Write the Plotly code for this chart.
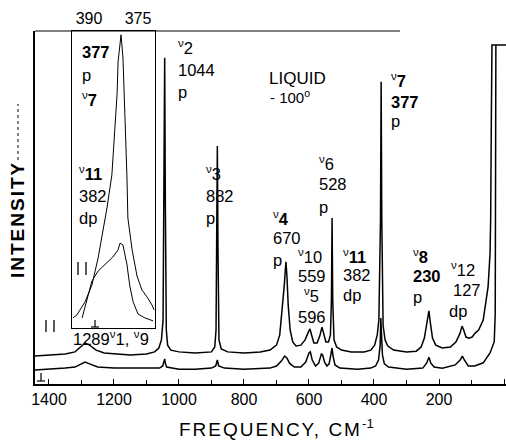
import plotly.graph_objects as go

# ---------------- data ----------------
# upper (parallel) trace: frequency cm-1, intensity (arb. units, 0-100 frame)
par_freq = [1443, 1400, 1350, 1320, 1300, 1289, 1275, 1255, 1230, 1200, 1150, 1100, 1075,
            1062, 1054, 1049, 1046, 1044, 1042, 1039, 1035, 1025, 1000, 950, 900, 890, 886,
            884, 882, 880, 877, 870, 850, 800, 750, 720, 700, 690, 682, 676, 671, 668, 664,
            658, 650, 640, 625, 612, 602, 597, 592, 585, 575, 566, 560, 555, 548, 540, 534,
            531, 529, 527, 523, 515, 500, 470, 430, 410, 398, 390, 385, 380, 378, 376, 372,
            366, 358, 340, 300, 270, 255, 245, 236, 231, 227, 220, 210, 190, 165, 148, 136,
            129, 124, 117, 108, 98, 88, 78, 64, 49, 43, 41, 39, 37, -8]
par_int = [7.9, 8.2, 8.5, 9.1, 10.8, 11.6, 11.0, 9.6, 8.8, 8.5, 8.2, 8.5, 9.1,
           10.2, 12.5, 18.1, 52.0, 92.4, 52.0, 15.3, 11.0, 9.6, 9.1, 8.8, 9.1, 10.5, 15.3,
           38.0, 67.4, 38.0, 12.5, 9.9, 9.1, 8.8, 9.1, 9.6, 11.0, 13.9, 21.0, 28.0, 34.6, 30.9, 22.4,
           15.3, 11.9, 10.8, 11.0, 12.5, 14.7, 15.6, 13.9, 11.6, 11.6, 13.9, 16.1, 14.4, 11.9, 11.9, 13.9,
           23.8, 47.0, 23.8, 12.5, 10.5, 9.6, 9.1, 9.1, 9.6, 11.0, 13.9, 18.1, 46.5, 85.6, 46.5, 16.7,
           12.5, 10.8, 9.6, 9.1, 9.3, 10.5, 13.0, 17.6, 20.7, 17.6, 13.0, 11.0, 10.2, 10.5, 11.9, 14.2,
           16.4, 15.3, 13.3, 13.0, 13.3, 14.5, 15.3, 18.1, 27.5, 37.0, 47.0, 75.0, 96.0, 96.0]

# lower (perpendicular) trace
perp_freq = [1443, 1400, 1350, 1320, 1300, 1289, 1275, 1250, 1200, 1100, 1060, 1050, 1046,
             1044, 1042, 1038, 1000, 950, 900, 887, 882, 878, 860, 800, 720, 700, 685, 675,
             668, 660, 645, 625, 610, 600, 596, 590, 580, 570, 562, 558, 552, 545, 538, 532,
             529, 526, 520, 505, 450, 410, 395, 386, 381, 379, 377, 374, 368, 355, 300, 250,
             238, 231, 225, 215, 190, 150, 135, 128, 122, 110, 90, 64, 43, 30, 27, 25]
perp_int = [4.0, 4.2, 4.5, 4.8, 5.7, 6.2, 5.7, 4.8, 4.5, 4.5, 4.5, 5.1, 6.2,
            7.1, 5.9, 4.8, 4.2, 4.2, 4.5, 5.1, 6.8, 5.1, 4.5, 4.2, 4.5, 5.1, 6.5, 7.9,
            7.4, 5.9, 4.8, 4.8, 6.2, 8.8, 9.1, 6.8, 5.1, 5.9, 8.5, 8.2, 6.2, 5.1, 5.7, 8.2,
            10.2, 7.9, 5.4, 4.5, 4.2, 4.5, 5.1, 6.8, 11.0, 18.7, 15.3, 8.2, 5.7, 4.8, 4.2, 4.5,
            5.9, 7.6, 5.9, 4.8, 4.5, 5.4, 6.8, 7.9, 6.8, 5.1, 5.1, 6.0, 8.8, 12.0, 20.0, 96.0]

# inset (expanded 377/382 region)
ins_par_freq = [394.9, 393.7, 391.2, 389.1, 387.2, 385.7, 384.5, 383.0, 382.3, 381.4, 381.1,
                380.2, 379.6, 379.0, 378.4, 378.1, 376.8, 375.3, 373.8, 372.2, 370.7, 370.1]
ins_par_int = [3.4, 4.4, 8.8, 14.5, 23.6, 32.3, 40.4, 51.5, 62.3, 78.8, 89.6,
               98.7, 90.9, 73.4, 51.5, 37.0, 26.3, 17.5, 12.8, 10.4, 7.7, 6.1]
ins_perp_freq = [392.1, 390.6, 389.1, 387.2, 385.1, 382.7, 381.1, 380.5, 379.6, 378.4,
                 377.5, 376.5, 375.0, 372.9, 370.4]
ins_perp_int = [3.4, 9.4, 15.8, 19.2, 21.5, 23.9, 26.3, 28.6, 27.9, 21.5,
                14.1, 8.8, 4.7, 3.4, 2.4]

main_ticks = [1400, 1200, 1000, 800, 600, 400, 200, 0]
inset_ticks = [390, 375]

# ---------------- geometry helpers (pixel -> paper) ----------------
L, R, T, B = 35, 0, 31, 56
W, H = 506, 440
PW, PH = W - L - R, H - T - B


def px(x):
    return (x - L) / PW


def py(y):
    return (H - B - y) / PH


FONT = "Liberation Sans, Arial, Helvetica, sans-serif"

fig = go.Figure()
fig.add_trace(go.Scatter(x=par_freq, y=par_int, mode="lines",
                         line=dict(color="black", width=1.5), hoverinfo="skip"))
fig.add_trace(go.Scatter(x=perp_freq, y=perp_int, mode="lines",
                         line=dict(color="black", width=1.5), hoverinfo="skip"))
fig.add_trace(go.Scatter(x=ins_par_freq, y=ins_par_int, mode="lines", xaxis="x2", yaxis="y2",
                         line=dict(color="black", width=1), hoverinfo="skip"))
fig.add_trace(go.Scatter(x=ins_perp_freq, y=ins_perp_int, mode="lines", xaxis="x2", yaxis="y2",
                         line=dict(color="black", width=1), hoverinfo="skip"))

# ---------------- text labels ----------------
labels = [
    # inset
    ("<b>377</b>", 80, 52), ("p", 80, 75), ("<sup>ν</sup><b>7</b>", 80, 99),
    ("<sup>ν</sup><b>11</b>", 77, 173), ("382", 77, 196), ("dp", 77, 218),
    # main
    ("1289<sup>ν</sup>1, <sup>ν</sup>9", 71, 338),
    ("<sup>ν</sup>2", 176, 47), ("1044", 176, 70), ("p", 176, 92),
    ("<sup>ν</sup><b>7</b>", 389, 80), ("<b>377</b>", 389, 102), ("p", 389, 121),
    ("<sup>ν</sup>3", 204, 173), ("882", 204, 196), ("p", 204, 218),
    ("<sup>ν</sup>6", 317, 163), ("528", 317, 184), ("p", 317, 207),
    ("<sup>ν</sup><b>4</b>", 271, 218), ("670", 271, 238), ("p", 271, 260),
    ("<sup>ν</sup>10", 296, 256), ("559", 296, 276),
    ("<sup>ν</sup>5", 302, 295), ("596", 296, 317),
    ("<sup>ν</sup><b>11</b>", 341, 256), ("382", 341, 275), ("dp", 341, 295),
    ("<sup>ν</sup><b>8</b>", 411, 256), ("<b>230</b>", 411, 276), ("p", 411, 297),
    ("<sup>ν</sup>12", 449, 269), ("127", 451, 290), ("dp", 447, 311),
]
ann = []
for txt, x, y in labels:
    ann.append(dict(text=txt, x=px(x), y=py(y), xref="paper", yref="paper",
                    xanchor="left", yanchor="middle", showarrow=False,
                    font=dict(family=FONT, size=16.5, color="black")))

ann.append(dict(text="LIQUID", x=px(267), y=py(78), xref="paper", yref="paper",
                xanchor="left", yanchor="middle", showarrow=False,
                font=dict(family=FONT, size=17, color="black")))
ann.append(dict(text="- 100<sup>o</sup>", x=px(268), y=py(96), xref="paper", yref="paper",
                xanchor="left", yanchor="middle", showarrow=False,
                font=dict(family=FONT, size=15, color="black")))

# axis titles
ann.append(dict(text='<span style="letter-spacing:2px">FREQUENCY, CM</span><sup>-1</sup>',
                x=px(276), y=py(428), xref="paper", yref="paper",
                xanchor="center", yanchor="middle", showarrow=False,
                font=dict(family=FONT, size=19, color="black")))
ann.append(dict(text='<span style="letter-spacing:2px"><b>INTENSITY</b></span>',
                x=px(17), y=py(220), xref="paper", yref="paper", textangle=-90,
                xanchor="center", yanchor="middle", showarrow=False,
                font=dict(family=FONT, size=19, color="black")))


def seg(x0, y0, x1, y1, w=1.2, dash="solid"):
    return dict(type="line", xref="paper", yref="paper", x0=px(x0), x1=px(x1),
                y0=py(y0), y1=py(y1), line=dict(color="black", width=w, dash=dash))


shapes = [
    seg(35, 31, 400, 31, 1.2),                 # partial top border
    seg(18, 160, 18, 104, 1, "dot"),           # intensity arrow line
    # polarisation marks: parallel "| |" and perpendicular
    seg(46, 320, 46, 332, 1.3), seg(54, 320, 54, 332, 1.3),
    seg(78, 262, 78, 275, 1.3), seg(86, 262, 86, 275, 1.3),
    seg(41, 373, 41, 381, 1.2), seg(37, 381, 45, 381, 1.2),
    seg(95, 320, 95, 327, 1.2), seg(91, 327, 99, 327, 1.2),
]

fig.update_layout(
    width=W, height=H, margin=dict(l=L, r=R, t=T, b=B),
    paper_bgcolor="white", plot_bgcolor="white", showlegend=False,
    font=dict(family=FONT, color="black"),
    xaxis=dict(range=[1443, -6.15], domain=[0, 1], showline=True, linecolor="black", linewidth=1.5,
               ticks="inside", ticklen=5, tickcolor="black", tickvals=main_ticks,
               ticktext=[str(t) for t in main_ticks], tickfont=dict(size=16, family=FONT),
               minor=dict(dtick=100, tick0=0, ticks="inside", ticklen=4, tickcolor="black"),
               showgrid=False, zeroline=False, fixedrange=True),
    yaxis=dict(range=[0, 100], domain=[0, 1], showline=True, linecolor="black", linewidth=1.5,
               showticklabels=False, ticks="", showgrid=False, zeroline=False),
    xaxis2=dict(range=[395.2, 369.8], domain=[px(72), px(155)], anchor="y2", side="top",
                tickvals=inset_ticks, ticktext=[str(t) for t in inset_ticks], ticks="",
                tickfont=dict(size=16, family=FONT), showline=True, mirror=True,
                linecolor="black", linewidth=1, showgrid=False, zeroline=False),
    yaxis2=dict(range=[0, 100], domain=[py(328), 1], anchor="x2", showline=True, mirror=True,
                linecolor="black", linewidth=1, showticklabels=False, ticks="",
                showgrid=False, zeroline=False),
    annotations=ann, shapes=shapes,
)

fig.write_html("out.html")
